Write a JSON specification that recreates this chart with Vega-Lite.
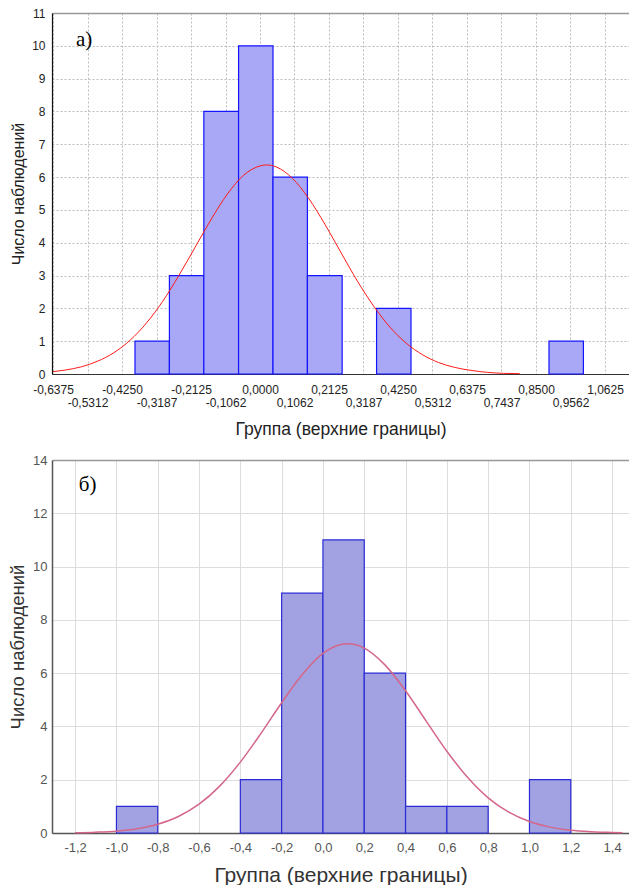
{
  "$schema": "https://vega.github.io/schema/vega-lite/v6.json",
  "padding": {"left": 8, "top": 7, "right": 0, "bottom": 0},
  "spacing": 16,
  "config": {
    "locale": {"number": {"decimal": ",", "thousands": " ", "grouping": [3], "currency": ["", ""], "minus": "-"}},
    "view": {"stroke": null},
    "font": "Liberation Sans",
    "axis": {"labelFont": "Liberation Sans", "titleFont": "Liberation Sans", "titleFontWeight": "normal"}
  },
  "datasets": {
    "barsA": [
      {"x0": -0.385, "x1": -0.279, "y": 1},
      {"x0": -0.279, "x1": -0.173, "y": 3},
      {"x0": -0.173, "x1": -0.066, "y": 8},
      {"x0": -0.066, "x1": 0.040, "y": 10},
      {"x0": 0.040, "x1": 0.146, "y": 6},
      {"x0": 0.146, "x1": 0.253, "y": 3},
      {"x0": 0.359, "x1": 0.465, "y": 2},
      {"x0": 0.890, "x1": 0.996, "y": 1}
    ],
    "curveA": [
      {"x": -0.6375, "y": 0.07}, {"x": -0.60, "y": 0.12}, {"x": -0.55, "y": 0.22}, {"x": -0.50, "y": 0.39},
      {"x": -0.45, "y": 0.65}, {"x": -0.40, "y": 1.03}, {"x": -0.35, "y": 1.55}, {"x": -0.30, "y": 2.21},
      {"x": -0.25, "y": 3.00}, {"x": -0.20, "y": 3.86}, {"x": -0.15, "y": 4.72}, {"x": -0.10, "y": 5.49},
      {"x": -0.05, "y": 6.06}, {"x": 0.00, "y": 6.34}, {"x": 0.02, "y": 6.37}, {"x": 0.05, "y": 6.31},
      {"x": 0.10, "y": 5.96}, {"x": 0.15, "y": 5.35}, {"x": 0.20, "y": 4.56}, {"x": 0.25, "y": 3.69},
      {"x": 0.30, "y": 2.83}, {"x": 0.35, "y": 2.07}, {"x": 0.40, "y": 1.43}, {"x": 0.45, "y": 0.94},
      {"x": 0.50, "y": 0.59}, {"x": 0.55, "y": 0.35}, {"x": 0.60, "y": 0.20}, {"x": 0.65, "y": 0.11},
      {"x": 0.70, "y": 0.05}, {"x": 0.75, "y": 0.02}, {"x": 0.80, "y": 0.01}
    ],
    "labelA": [{"x": -0.567, "y": 10.18, "t": "а)"}],
    "barsB": [
      {"x0": -1.0, "x1": -0.8, "y": 1},
      {"x0": -0.4, "x1": -0.2, "y": 2},
      {"x0": -0.2, "x1": 0.0, "y": 9},
      {"x0": 0.0, "x1": 0.2, "y": 11},
      {"x0": 0.2, "x1": 0.4, "y": 6},
      {"x0": 0.4, "x1": 0.6, "y": 1},
      {"x0": 0.6, "x1": 0.8, "y": 1},
      {"x0": 1.0, "x1": 1.2, "y": 2}
    ],
    "curveB": [
      {"x": -1.2, "y": 0.01}, {"x": -1.1, "y": 0.03}, {"x": -1.0, "y": 0.07}, {"x": -0.9, "y": 0.16},
      {"x": -0.8, "y": 0.33}, {"x": -0.7, "y": 0.62}, {"x": -0.6, "y": 1.08}, {"x": -0.5, "y": 1.76},
      {"x": -0.4, "y": 2.66}, {"x": -0.3, "y": 3.74}, {"x": -0.2, "y": 4.89}, {"x": -0.1, "y": 5.95},
      {"x": 0.0, "y": 6.74}, {"x": 0.1, "y": 7.09}, {"x": 0.12, "y": 7.10}, {"x": 0.2, "y": 6.94},
      {"x": 0.3, "y": 6.31}, {"x": 0.4, "y": 5.34}, {"x": 0.5, "y": 4.20}, {"x": 0.6, "y": 3.07},
      {"x": 0.7, "y": 2.09}, {"x": 0.8, "y": 1.32}, {"x": 0.9, "y": 0.78}, {"x": 1.0, "y": 0.43},
      {"x": 1.1, "y": 0.22}, {"x": 1.2, "y": 0.10}, {"x": 1.3, "y": 0.045}, {"x": 1.4, "y": 0.02},
      {"x": 1.45, "y": 0.01}
    ],
    "labelB": [{"x": -1.182, "y": 13.05, "t": "б)"}]
  },
  "vconcat": [
    {
      "width": 577,
      "height": 361,
      "encoding": {
        "y": {
          "field": "y", "type": "quantitative",
          "scale": {"domain": [0, 11], "nice": false},
          "axis": {
            "values": [0, 1, 2, 3, 4, 5, 6, 7, 8, 9, 10, 11],
            "labelFontSize": 12, "labelColor": "#222", "labelPadding": 7, "ticks": false, "labelOverlap": false,
            "domainColor": "#111", "domainWidth": 1.2,
            "grid": true, "gridDash": [2, 2], "gridColor": "#bbbbbb",
            "title": "Число наблюдений", "titleFontSize": 16, "titlePadding": 5, "titleColor": "#222"
          }
        }
      },
      "layer": [
        {
          "data": {"name": "barsA"},
          "mark": {"type": "rect", "fill": "#a8a8f6", "stroke": "#1414ff", "strokeWidth": 1.2},
          "encoding": {
            "x": {
              "field": "x0", "type": "quantitative",
              "scale": {"domain": [-0.6406, 1.1364], "nice": false, "zero": false},
              "axis": {
                "orient": "bottom",
                "values": [-0.6375, -0.5312, -0.425, -0.3187, -0.2125, -0.1062, 0, 0.1062, 0.2125, 0.3187, 0.425, 0.5312, 0.6375, 0.7437, 0.85, 0.9562, 1.0625],
                "format": ".4f",
                "labelExpr": "round((datum.value + 0.6375) / 0.10625) % 2 == 1 ? ['', datum.label] : datum.label",
                "labelFontSize": 12, "labelColor": "#222", "labelBaseline": "top", "labelLineHeight": 13,
                "labelPadding": 10, "labelOverlap": false, "labelFlush": false,
                "ticks": false, "domainColor": "#333", "domainWidth": 1.2,
                "grid": true, "gridDash": [2, 2], "gridColor": "#bbbbbb",
                "title": "Группа (верхние границы)", "titleFontSize": 17.5, "titlePadding": 12, "titleColor": "#222"
              }
            },
            "x2": {"field": "x1"},
            "y2": {"datum": 0}
          }
        },
        {
          "data": {"name": "curveA"},
          "mark": {"type": "line", "color": "#ff1a1a", "strokeWidth": 1, "interpolate": "monotone"},
          "encoding": {
            "x": {"field": "x", "type": "quantitative",
                  "axis": {"orient": "top", "labels": false, "ticks": false, "grid": false, "title": null, "domainColor": "#999999", "domainWidth": 1.5}}
          }
        },
        {
          "data": {"name": "labelA"},
          "mark": {"type": "text", "font": "Liberation Serif", "fontSize": 21, "align": "left", "baseline": "middle", "color": "#000"},
          "encoding": {
            "x": {"field": "x", "type": "quantitative", "axis": null},
            "text": {"field": "t"}
          }
        }
      ],
      "resolve": {"axis": {"x": "independent"}}
    },
    {
      "width": 577,
      "height": 373,
      "encoding": {
        "y": {
          "field": "y", "type": "quantitative",
          "scale": {"domain": [0, 14], "nice": false},
          "axis": {
            "values": [0, 2, 4, 6, 8, 10, 12, 14],
            "labelFontSize": 13, "labelColor": "#555", "labelPadding": 5, "ticks": false, "labelOverlap": false,
            "domainColor": "#555", "domainWidth": 1.5,
            "grid": true, "gridColor": "#dddddd",
            "title": "Число наблюдений", "titleFontSize": 18.5, "titlePadding": 5, "titleColor": "#333"
          }
        }
      },
      "layer": [
        {
          "data": {"name": "barsB"},
          "mark": {"type": "rect", "fill": "#a2a2e2", "stroke": "#2a2ad6", "strokeWidth": 1.2},
          "encoding": {
            "x": {
              "field": "x0", "type": "quantitative",
              "scale": {"domain": [-1.312, 1.482], "nice": false, "zero": false},
              "axis": {
                "orient": "bottom",
                "values": [-1.2, -1.0, -0.8, -0.6, -0.4, -0.2, 0, 0.2, 0.4, 0.6, 0.8, 1.0, 1.2, 1.4],
                "format": ".1f",
                "labelFontSize": 13, "labelColor": "#555", "labelBaseline": "top",
                "labelPadding": 8, "labelOverlap": false, "labelFlush": false,
                "ticks": false, "domainColor": "#555", "domainWidth": 1.5,
                "grid": true, "gridColor": "#dddddd",
                "title": "Группа (верхние границы)", "titleFontSize": 21, "titlePadding": 10, "titleColor": "#333"
              }
            },
            "x2": {"field": "x1"},
            "y2": {"datum": 0}
          }
        },
        {
          "data": {"name": "curveB"},
          "mark": {"type": "line", "color": "#d4668a", "strokeWidth": 1.5, "interpolate": "monotone"},
          "encoding": {
            "x": {"field": "x", "type": "quantitative",
                  "axis": {"orient": "top", "labels": false, "ticks": false, "grid": false, "title": null, "domainColor": "#999999", "domainWidth": 1.5}}
          }
        },
        {
          "data": {"name": "labelB"},
          "mark": {"type": "text", "font": "Liberation Serif", "fontSize": 21, "align": "left", "baseline": "middle", "color": "#000"},
          "encoding": {
            "x": {"field": "x", "type": "quantitative", "axis": null},
            "text": {"field": "t"}
          }
        }
      ],
      "resolve": {"axis": {"x": "independent"}}
    }
  ]
}
